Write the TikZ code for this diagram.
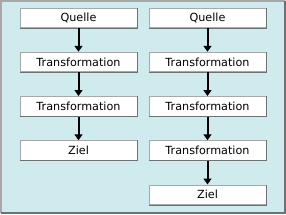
\documentclass[tikz,border=0pt]{standalone}
\usepackage{fontspec}
\setmainfont{DejaVu Sans}
\usepackage{tikz}
\usetikzlibrary{arrows.meta,positioning}
\definecolor{panelc}{HTML}{CFEBEE}
\definecolor{litec}{HTML}{A8A8A8}
\definecolor{darkc}{HTML}{6A7272}
\tikzset{
  blk/.style={rectangle,draw=litec,line width=1pt,fill=white,minimum width=117pt,minimum height=19.5pt,inner sep=0pt,font=\fontsize{11.2}{13}\selectfont},
  ar/.style={-{Triangle[length=6pt,width=8pt]},line width=2pt,black}
}
\newcommand{\shadeedge}[1]{\draw[darkc,line width=1pt] (#1.south west)--(#1.south east)--(#1.north east);}
\begin{document}
\begin{tikzpicture}[x=1pt,y=-1pt,node distance=23.75pt]
\useasboundingbox (0,0) rectangle (286,214);
\fill[panelc] (0,0) rectangle (286,214);
\draw[litec,line width=2pt] (1,213)--(1,1)--(285,1);
\draw[darkc,line width=2pt] (1,213)--(285,213)--(285,1);
% left column
\node[blk] (lq) at (78.5,17.75) {Quelle};
\node[blk,below=of lq] (lt1) {Transformation};
\node[blk,below=of lt1] (lt2) {Transformation};
\node[blk,below=of lt2] (lz) {Ziel};
% right column
\node[blk] (rq) at (207.5,17.75) {Quelle};
\node[blk,below=of rq] (rt1) {Transformation};
\node[blk,below=of rt1] (rt2) {Transformation};
\node[blk,below=of rt2] (rt3) {Transformation};
\node[blk,below=of rt3] (rz) {Ziel};
\foreach \n in {lq,lt1,lt2,lz,rq,rt1,rt2,rt3,rz} {\shadeedge{\n}}
\draw[ar] (lq)--(lt1);
\draw[ar] (lt1)--(lt2);
\draw[ar] (lt2)--(lz);
\draw[ar] (rq)--(rt1);
\draw[ar] (rt1)--(rt2);
\draw[ar] (rt2)--(rt3);
\draw[ar] (rt3)--(rz);
\end{tikzpicture}
\end{document}
